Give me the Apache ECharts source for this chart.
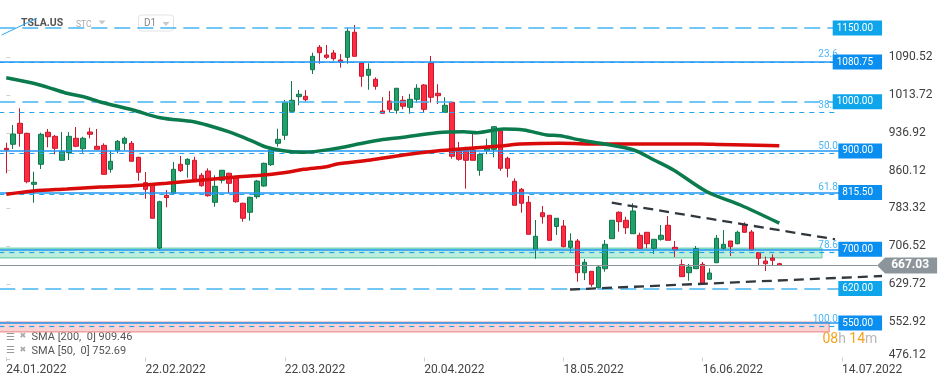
<!DOCTYPE html>
<html><head><meta charset="utf-8">
<script src="https://cdn.jsdelivr.net/npm/echarts@6/dist/echarts.min.js"></script>
<style>html,body{margin:0;padding:0;background:#fff;}#c{width:949px;height:385px;}</style>
</head><body><div id="c"></div>
<script>
// ---------- data ----------
const dateLabels = ['24.01.2022','22.02.2022','22.03.2022','20.04.2022','18.05.2022','16.06.2022','14.07.2022'];
const dateLabelStep = 20; // trading days between labels

const opens  = [905.3,913.5,956.2,935.8,832.1,872.8,937.9,929.7,880.9,896.4,925.7,904.5,938.5,909.4,911.4,862.6,901.3,915.5,915.5,887.0,
  835.4,832.1,702.5,809.7,813.8,872.8,872.8,880.9,850.4,859.2,795.5,840.2,854.5,846.3,793.5,775.2,806.9,828.6,872.0,915.5,
  931.8,980.6,1010.3,1011.1,1065.2,1110.8,1095.1,1099.2,1084.9,1090.4,1141.3,1078.8,1053.8,1045.7,981.2,1001.5,982.6,1003.0,988.7,1005.0,
  1034.1,1078.2,1017.2,978.5,998.9,901.3,900.4,901.9,860.6,900.4,903.3,941.1,885.0,838.2,821.9,795.5,699.9,774.3,769.1,746.3,
  747.3,704.0,716.8,652.3,655.2,621.8,660.4,721.5,775.2,758.9,731.6,728.4,734.5,701.9,720.2,748.7,704.0,668.6,652.3,660.4,
  669.4,638.9,672.6,701.9,716.8,711.3,749.3,735.1,693.0,676.1,682.2,670.6];
const closes = [901.9,934.4,935.8,837.4,836.2,933.8,928.9,905.3,899.2,929.7,909.4,925.7,933.8,903.3,852.4,878.9,919.6,925.7,878.9,856.5,
  821.9,763.0,796.7,804.9,862.6,859.8,883.0,837.4,829.3,808.9,828.0,860.6,834.1,796.7,763.0,805.7,838.8,874.8,901.9,923.6,
  998.9,1003.0,1015.2,1004.2,1092.4,1099.8,1090.4,1087.6,1080.8,1143.3,1092.4,1051.8,1066.0,1031.4,976.5,984.6,1027.4,990.8,1005.0,1027.4,
  984.6,1009.1,1012.3,992.8,889.1,883.0,880.9,880.9,893.1,905.3,949.3,864.6,864.6,789.4,793.5,730.4,726.3,766.2,718.2,763.0,
  705.2,716.8,652.3,673.5,628.7,663.9,710.1,758.9,756.0,743.8,777.8,701.9,711.3,720.2,728.4,718.2,698.5,644.2,663.9,701.1,
  630.8,651.7,722.3,710.1,705.2,734.5,734.5,698.5,681.6,670.6,677.5,667.0];
const highs  = [916.7,952.7,986.7,937.1,857.7,937.1,944.6,932.4,938.5,938.5,948.6,928.9,947.2,944.6,915.5,899.8,922.2,928.9,920.2,888.2,
  857.1,834.8,798.7,820.5,877.5,889.7,885.0,888.2,855.1,864.6,850.4,861.2,855.7,849.0,794.7,806.9,840.9,876.0,903.3,945.2,
  1003.6,1042.2,1023.9,1023.9,1099.8,1115.4,1115.4,1105.3,1097.1,1151.4,1156.1,1078.8,1078.2,1049.7,1009.1,1021.9,1027.4,1011.7,1015.8,1035.5,
  1036.1,1093.1,1035.5,1009.1,1000.9,918.1,908.6,934.4,896.4,924.9,950.6,946.0,888.2,844.3,824.6,808.3,759.5,788.0,769.1,763.0,
  759.5,732.4,720.9,680.2,655.2,667.4,718.8,758.9,777.2,766.2,793.5,733.7,734.5,720.2,749.3,767.6,716.8,679.6,670.0,706.6,
  674.1,661.3,729.0,739.2,716.8,737.7,754.8,739.2,693.0,684.9,689.7,672.5];
const lows   = [854.5,903.9,908.6,834.1,794.7,863.2,907.4,893.1,880.9,881.5,907.4,896.4,925.7,903.3,852.4,855.7,895.2,901.9,878.9,839.4,
  802.8,763.0,700.0,785.3,813.8,857.1,845.5,837.4,827.2,806.9,786.5,834.1,813.8,794.7,756.0,758.1,802.8,827.2,869.3,908.6,
  922.2,979.2,992.8,1000.1,1056.4,1077.4,1087.0,1083.5,1069.3,1077.4,1092.4,1030.6,1024.5,1024.5,976.5,979.2,975.7,984.6,975.7,998.1,
  979.2,998.1,995.4,978.5,884.2,880.1,823.2,880.9,849.6,893.1,887.0,859.8,846.3,789.4,774.3,730.4,680.8,752.0,718.2,729.0,
  704.0,695.0,634.0,637.5,623.8,621.8,654.3,721.5,735.7,731.0,731.6,701.9,701.9,690.3,717.4,718.2,684.2,644.2,636.0,660.4,
  627.9,638.9,672.6,698.5,686.3,710.1,733.7,698.5,665.9,655.8,665.9,666.0];

// moving averages, sampled along the drawn curves (candle index, price)
const sma200Idx = [0,3.9,8.7,13.5,18.2,23,27.8,32.6,37.4,40.8,42.7,46,47.5,52.3,57,61.8,66.6,71.4,73.8,79.5,85.3,99.7,102.5,111];
const sma200Val = [811.8,818.5,822.5,826.6,829.3,834.1,840.2,846.3,851.6,857.7,862.6,867.9,873.5,881.5,891.7,899.8,905.3,910.6,914.0,915.5,914.0,914.0,913.0,910.5];
const sma50Idx  = [0,3.9,6.75,8.7,11.1,13.5,18.2,22.1,26.9,28.8,32.6,35.5,37.4,39.8,42.7,47.5,49.9,53.7,57,61.8,65.7,67.6,71.4,74.3,77.6,79.5,82.4,85.3,90.1,93,95.8,100.6,105.4,111];
const sma50Val  = [1048.9,1037.5,1025.9,1017.2,1010.3,999.5,983.2,967.6,959.4,952.7,935.8,918.7,907.4,900.4,897.2,905.3,912.0,922.2,927.7,937.1,939.1,937.1,944.6,942.5,932.4,931.0,922.2,915.5,901.9,881.5,861.2,817.0,790.0,753.0];
const sma200Legend = 'SMA [200,  0] 909.46';
const sma50Legend  = 'SMA [50,  0] 752.69';

// horizontal levels
const solidLevels  = [1080.75, 900, 815.5, 700, 550];
const dashedLevels = [1150, 1000, 620];
const fiboHigh = 1247.5, fiboLow = 543.3;
const fiboRatios = [23.6, 38.2, 50.0, 61.8, 78.6, 100.0];
const greenZone = [682.8, 701.9];
const pinkZone  = [532.3, 551.4];
const lastPrice = 667.03;

// trend lines (candle index, price)
const upperTrend = [[86.94, 794.7], [119.0, 720.2]];
const lowerTrend = [[80.95, 618.1], [125.75, 645.6]];
const blueRay    = [[-0.655, 1135.8], [4.37, 1169.7]];

// y axis tick labels
const yTicks = [476.12, 552.92, 629.72, 706.52, 783.32, 860.12, 936.92, 1013.72, 1090.52];

// ---------- build ----------
const NCAT = 128; // category slots; slot c holds candle c-1
const cats = Array.from({length: NCAT}, (_, c) => String(c));
function labelFor(c) {
  const i = c - 1;
  if (i >= 0 && i % dateLabelStep === 0 && i / dateLabelStep < dateLabels.length) return dateLabels[i / dateLabelStep];
  return '';
}
const candleData = cats.map((_, c) => {
  const i = c - 1;
  if (i < 0 || i >= opens.length) return '-';
  return [opens[i], closes[i], lows[i], highs[i]];
});

const X0 = -1, XLINE = 125.75, XFIBO = 119.4, XGREEN = 117.1, XPINK = 118.15, XPRICE = 125.04;
const FONT = 'Roboto';

function boxLabel(v, bg) {
  return {show: true, position: 'insideEnd', distance: [0, 0], formatter: v.toFixed(2),
    color: '#fff', backgroundColor: bg, fontSize: 10, fontFamily: FONT, lineHeight: 11, padding: [2, 9, 2, 4]};
}

const option = {
  animation: false,
  backgroundColor: '#ffffff',
  grid: {left: -0.7, right: 65.2, top: 0, bottom: 23.5, containLabel: false, outerBoundsMode: 'none'},
  xAxis: [
    {type: 'category', data: cats, boundaryGap: false,
     axisLine: {show: false}, splitLine: {show: false},
     axisTick: {show: true, inside: true, length: 4, interval: (i) => labelFor(i) !== '', lineStyle: {color: '#cfcfcf'}},
     axisLabel: {show: true, interval: (i) => labelFor(i) !== '', formatter: (v, i) => labelFor(i), align: 'left',
       margin: 2, color: '#444', fontSize: 12, fontFamily: FONT}},
    {type: 'value', min: X0, max: 126, show: false}
  ],
  yAxis: {type: 'value', position: 'right', min: 471.7, max: 1206.95, scale: true,
    axisLine: {show: false}, splitLine: {show: false},
    axisTick: {show: true, length: 4, customValues: yTicks, lineStyle: {color: '#d0d0d0'}},
    axisLabel: {show: true, customValues: yTicks, margin: 5, color: '#404040', fontSize: 12, fontFamily: FONT,
      formatter: (v) => v === yTicks[0] ? '{lo|' + v.toFixed(2) + '}' : v.toFixed(2),
      rich: {lo: {fontSize: 12, fontFamily: FONT, color: '#404040', padding: [0, 0, 8, 0]}}}},
  series: [
    // fibonacci levels
    {type: 'line', xAxisIndex: 1, data: [], z: 1, silent: true,
     markLine: {silent: true, symbol: ['none', 'none'], animation: false,
       lineStyle: {color: '#22a6ee', width: 1.2, type: [5, 5]},
       label: {show: true, position: 'insideEndTop', distance: [0, 2], color: '#4db6f2', fontSize: 10, fontFamily: FONT},
       data: fiboRatios.map(r => {
         const v = fiboHigh - (fiboHigh - fiboLow) * r / 100;
         return [{coord: [X0, v], label: {formatter: r.toFixed(1)}}, {coord: [XFIBO, v]}];
       })}},
    // dashed levels
    {type: 'line', xAxisIndex: 1, data: [], z: 2, silent: true,
     markLine: {silent: true, symbol: ['none', 'none'], animation: false,
       lineStyle: {color: '#45b5f1', width: 1.5, type: [16, 7]},
       data: dashedLevels.map(v => [{coord: [X0, v], label: boxLabel(v, '#0ea5ea')}, {coord: [XLINE, v]}])}},
    // solid levels
    {type: 'line', xAxisIndex: 1, data: [], z: 2, silent: true,
     markLine: {silent: true, symbol: ['none', 'none'], animation: false,
       lineStyle: {color: '#2196f3', width: 1.5, type: 'solid'},
       data: solidLevels.map(v => [{coord: [X0, v], label: boxLabel(v, '#0a8ef0')}, {coord: [XLINE, v]}])}},
    // last price line + tag
    {type: 'line', xAxisIndex: 1, data: [], z: 2, silent: true,
     markLine: {silent: true, symbol: ['none', 'none'], animation: false,
       lineStyle: {color: '#8a949b', width: 1, type: 'solid'}, label: {show: false},
       data: [[{coord: [X0, lastPrice]}, {coord: [XPRICE, lastPrice]}]]},
     markPoint: {silent: true, animation: false,
       data: [{coord: [XPRICE, lastPrice], symbol: 'path://M0,8 L8,0 L60,0 L60,16 L8,16 Z', symbolSize: [60, 16],
         symbolKeepAspect: false, symbolOffset: [30, 0], itemStyle: {color: '#8c959b'},
         label: {show: true, position: 'inside', offset: [3, 0], formatter: lastPrice.toFixed(2), color: '#fff',
           fontSize: 12, fontWeight: 'bold', fontFamily: FONT}}]}},
    // candles
    {type: 'candlestick', xAxisIndex: 0, data: candleData, barWidth: 5, z: 3,
     itemStyle: {color: '#22a06b', color0: '#ff2b41', borderColor: '#11764a', borderColor0: '#c8182e', borderWidth: 1}},
    // zones (over candles, translucent)
    {type: 'line', xAxisIndex: 1, data: [], z: 4, silent: true,
     markArea: {silent: true, animation: false,
       data: [
         [{coord: [X0, greenZone[1]], itemStyle: {color: 'rgba(90,212,168,0.4)', borderColor: '#7fd8bb', borderWidth: 1.5}}, {coord: [XGREEN, greenZone[0]]}],
         [{coord: [X0, pinkZone[1]], itemStyle: {color: 'rgba(245,120,120,0.33)', borderColor: '#f2a0a0', borderWidth: 1.5}}, {coord: [XPINK, pinkZone[0]]}]
       ]}},
    // moving averages
    {type: 'line', xAxisIndex: 1, name: 'SMA200', z: 5, showSymbol: false, smooth: 0.3, silent: true,
     data: sma200Idx.map((x, i) => [x, sma200Val[i]]), lineStyle: {color: '#d90a0a', width: 3.5}},
    {type: 'line', xAxisIndex: 1, name: 'SMA50', z: 5, showSymbol: false, smooth: 0.3, silent: true,
     data: sma50Idx.map((x, i) => [x, sma50Val[i]]), lineStyle: {color: '#0b7b4d', width: 3.5}},
    // trend lines
    {type: 'line', xAxisIndex: 1, data: [], z: 6, silent: true,
     markLine: {silent: true, symbol: ['none', 'none'], animation: false, label: {show: false},
       data: [
         [{coord: upperTrend[0], lineStyle: {color: '#30373d', width: 2.3, type: [10, 6]}}, {coord: upperTrend[1]}],
         [{coord: lowerTrend[0], lineStyle: {color: '#30373d', width: 2.3, type: [10, 6]}}, {coord: lowerTrend[1]}],
         [{coord: blueRay[0], lineStyle: {color: '#2ea8f0', width: 1, type: 'solid'}}, {coord: blueRay[1]}]
       ]}}
  ],
  graphic: [
    {type: 'text', left: 21, top: 18, style: {text: 'TSLA.US', font: 'bold 10.5px Roboto', fill: '#555'}},
    {type: 'text', left: 76, top: 20, style: {text: 'STC', font: '8.5px Roboto', fill: '#aaa'}},
    {type: 'polygon', shape: {points: [[98.5, 20.5], [105.5, 20.5], [102, 24.5]]}, style: {fill: '#c8c8c8'}},
    {type: 'rect', shape: {x: 138.5, y: 15, width: 35, height: 16, r: 3}, style: {fill: 'none', stroke: '#e3e3e3', lineWidth: 1}},
    {type: 'text', left: 144, top: 18.5, style: {text: 'D1', font: '10px Roboto', fill: '#888'}},
    {type: 'polygon', shape: {points: [[162.5, 22], [169.5, 22], [166, 26]]}, style: {fill: '#c8c8c8'}},
    {type: 'text', left: 6, top: 332, style: {text: '☰', font: '10px DejaVu Sans', fill: '#999'}},
    {type: 'text', left: 19.5, top: 332, style: {text: '✖', font: '8px DejaVu Sans', fill: '#aaa'}},
    {type: 'text', left: 31.5, top: 332, style: {text: sma200Legend, font: '11px Roboto', fill: '#555'}},
    {type: 'text', left: 6, top: 345.5, style: {text: '☰', font: '10px DejaVu Sans', fill: '#999'}},
    {type: 'text', left: 19.5, top: 345.5, style: {text: '✖', font: '8px DejaVu Sans', fill: '#aaa'}},
    {type: 'text', left: 31.5, top: 345.5, style: {text: sma50Legend, font: '11px Roboto', fill: '#555'}},
    {type: 'text', left: 822.5, top: 332, style: {text: '{o|08}{g|h} {o|14}{g|m}',
      rich: {o: {fontSize: 14, fontFamily: FONT, fill: '#f7a21b', color: '#f7a21b'}, g: {fontSize: 14, fontFamily: FONT, fill: '#b8b8b8', color: '#b8b8b8'}}}}
  ]
};
const chart = echarts.init(document.getElementById('c'), null, {renderer: 'canvas'});
chart.setOption(option);
</script></body></html>
